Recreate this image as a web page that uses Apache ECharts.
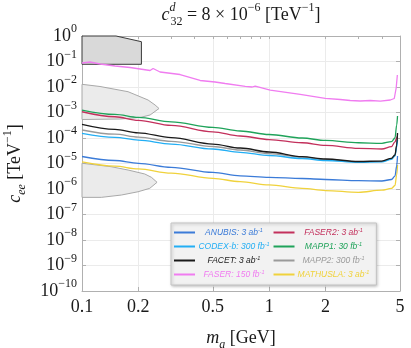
<!DOCTYPE html>
<html>
<head>
<meta charset="utf-8">
<script src="https://cdn.jsdelivr.net/npm/echarts@6/dist/echarts.min.js"></script>
<style>
  html, body { margin: 0; padding: 0; background: #fff; }
  #chart { width: 411px; height: 348px; }
</style>
</head>
<body>
<div id="chart"></div>
<script>
// 数据：质量网格 (GeV) 与各实验的 c_ee 灵敏度 (TeV^-1)
var massGrid = [0.1, 0.15, 0.2, 0.3, 0.5, 0.7, 1, 1.5, 2, 3, 4, 4.5, 4.7, 4.8, 4.85];
var anubis   = [1.88e-5, 1.31e-5, 1.02e-5, 7.1e-6, 4.5e-6, 3.3e-6, 2.88e-6, 2.58e-6, 2.36e-6, 2.12e-6, 2.06e-6, 2.36e-6, 3.2e-6, 8.0e-6, 1.97e-5];
var codexb   = [1.53e-4, 1.06e-4, 8.3e-5, 5.8e-5, 3.7e-5, 2.75e-5, 2.06e-5, 1.57e-5, 1.31e-5, 1.11e-5, 1.15e-5, 1.44e-5, 1.97e-5, 4.4e-5, 8.4e-5];
var facet    = [3.44e-4, 2.19e-4, 1.6e-4, 1.03e-4, 5.8e-5, 4.05e-5, 2.83e-5, 1.85e-5, 1.5e-5, 1.2e-5, 1.25e-5, 1.6e-5, 2.15e-5, 5.3e-5, 1.57e-4];
var faser2   = [1.07e-3, 6.8e-4, 4.9e-4, 3.1e-4, 1.75e-4, 1.2e-4, 8.7e-5, 6.5e-5, 5.1e-5, 3.9e-5, 3.7e-5, 4.6e-5, 7.0e-5, 1.0e-4, 1.2e-4];
var mapp1    = [1.25e-3, 8.4e-4, 6.4e-4, 4.3e-4, 2.6e-4, 1.88e-4, 1.37e-4, 1.0e-4, 8.0e-5, 6.5e-5, 6.2e-5, 7.2e-5, 1.0e-4, 3.2e-4, 7.3e-4];
var mapp2    = [2.06e-4, 1.41e-4, 1.08e-4, 7.4e-5, 4.65e-5, 3.38e-5, 2.46e-5, 1.77e-5, 1.44e-5, 1.15e-5, 1.2e-5, 1.53e-5, 2.06e-5, 4.85e-5, 1.44e-4];
var mathusla = [1.15e-5, 7.9e-6, 6.1e-6, 4.2e-6, 2.63e-6, 1.93e-6, 1.44e-6, 1.06e-6, 8.7e-7, 7.4e-7, 9.0e-7, 1.05e-6, 1.37e-6, 3.54e-6, 8.7e-6];
// FASER 曲线有锯齿，单独一组质量点
var faserMass = [0.1, 0.1104, 0.1248, 0.15, 0.1806, 0.2311, 0.2398, 0.2613, 0.3342, 0.4276, 0.514, 0.5817, 0.745, 0.811, 0.842, 1.013, 1.465, 1.993, 2.398, 2.71, 3.066, 3.468, 3.93, 4.438, 4.66, 4.77, 4.84];
var faserVals = [0.0873, 0.0955, 0.0798, 0.0667, 0.0582, 0.0444, 0.0531, 0.0388, 0.0309, 0.018, 0.0157, 0.0137, 0.0105, 0.0100, 0.0109, 0.0076, 0.0051, 0.0036, 0.00323, 0.00296, 0.00283, 0.00296, 0.00277, 0.00309, 0.00354, 0.00914, 0.0296];
// 已排除区域 (灰色多边形)
var regionDark   = [[0.1, 1], [0.152, 1], [0.2077, 0.598], [0.2077, 0.0777], [0.1, 0.0777]];
var regionUpper  = [[0.1, 0.01276], [0.1248, 0.01047], [0.1762, 0.00654], [0.2254, 0.00309], [0.2457, 0.00197], [0.258, 0.001435],
                    [0.2311, 0.000798], [0.2042, 0.000637], [0.1597, 0.000556], [0.1, 0.000531]];
var regionLower  = [[0.1, 1.02e-5], [0.1429, 7.5e-6], [0.1762, 5.56e-6], [0.2164, 3.88e-6], [0.2348, 2.88e-6], [0.2518, 1.83e-6],
                    [0.2301, 1.06e-6], [0.1993, 7.8e-7], [0.1623, 5.8e-7], [0.1268, 4.7e-7], [0.1, 4.7e-7]];
// 刻度
var xLabelVals = [0.1, 0.2, 0.5, 1, 2, 5];
var xMinorVals = [0.1, 0.2, 0.3, 0.4, 0.5, 0.6, 0.7, 0.8, 0.9, 1, 2, 3, 4, 5];
var yTickVals = [1e-10, 1e-9, 1e-8, 1e-7, 1e-6, 1e-5, 1e-4, 1e-3, 1e-2, 1e-1, 1];
// 图例文字
var lumi = {
    'ANUBIS': '3 ab', 'CODEX-b': '300 fb', 'FACET': '3 ab', 'FASER': '150 fb',
    'FASER2': '3 ab', 'MAPP1': '30 fb', 'MAPP2': '300 fb', 'MATHUSLA': '3 ab'
};
var colors = {
    'ANUBIS': '#3b7bd8', 'CODEX-b': '#22aef4', 'FACET': '#1a1a1a', 'FASER': '#f07cf0',
    'FASER2': '#c3305c', 'MAPP1': '#1fa35a', 'MAPP2': '#9a9a9a', 'MATHUSLA': '#f0d23c'
};
var legendOrder = ['ANUBIS', 'CODEX-b', 'FACET', 'FASER', 'FASER2', 'MAPP1', 'MAPP2', 'MATHUSLA'];

var SERIF = 'Liberation Serif';
var INK = '#1a1a1a';
var GRIDC = '#ebebeb';
var FRAME = '#b0b0b0';

var richMath = {
    n: {fontFamily: SERIF, fontSize: 18, fontWeight: 'normal', lineHeight: 26, color: INK, align: 'left'},
    i: {fontFamily: SERIF, fontSize: 18, fontWeight: 'normal', lineHeight: 26, fontStyle: 'italic', color: INK, align: 'left'},
    sup: {fontFamily: SERIF, fontSize: 12, fontWeight: 'normal', lineHeight: 12, verticalAlign: 'top', color: INK, align: 'left'},
    supi: {fontFamily: SERIF, fontSize: 12, fontWeight: 'normal', lineHeight: 12, fontStyle: 'italic', verticalAlign: 'top', color: INK, align: 'left', width: 1},
    sub: {fontFamily: SERIF, fontSize: 12, fontWeight: 'normal', lineHeight: 12, verticalAlign: 'bottom', color: INK, align: 'left'},
    subi: {fontFamily: SERIF, fontSize: 12, fontWeight: 'normal', lineHeight: 12, fontStyle: 'italic', verticalAlign: 'bottom', color: INK, align: 'left'}
};

function pairs(xs, ys) {
    return xs.map(function (x, i) { return [x, ys[i]]; });
}

function regionSeries(pts, fill, stroke) {
    return {
        type: 'custom',
        silent: true,
        renderItem: function (params, api) {
            if (params.dataIndex > 0) return;
            var poly = pts.map(function (p) { return api.coord(p); });
            return {
                type: 'polygon',
                shape: {points: poly},
                style: {fill: fill, stroke: stroke, lineWidth: 1}
            };
        },
        data: pts,
        z: 1
    };
}

function lineSeries(name, xs, ys, smooth) {
    return {
        name: name,
        type: 'line',
        data: pairs(xs, ys),
        showSymbol: false,
        smooth: smooth ? 0.35 : false,
        smoothMonotone: 'x',
        lineStyle: {width: 1.3, color: colors[name]},
        itemStyle: {color: colors[name]},
        z: 3
    };
}

var chart = echarts.init(document.getElementById('chart'), null, {renderer: 'canvas'});

var option = {
    animation: false,
    title: {
        text: '{i|c}{supi|d}{sub|32}{n| = 8 × 10}{sup|−6}{n| [TeV}{sup|−1}{n|]}',
        left: 241,
        top: 2,
        textAlign: 'center',
        padding: 0,
        textStyle: {fontWeight: 'normal', rich: richMath}
    },
    grid: {left: 82, right: 11, top: 36, bottom: 57, outerBoundsMode: 'none', containLabel: false},
    legend: {
        orient: 'vertical',
        left: 171,
        top: 223,
        height: 62,
        padding: [4, 7, 6, 3],
        itemGap: 4,
        itemWidth: 21,
        itemHeight: 2,
        icon: 'rect',
        selectedMode: false,
        backgroundColor: '#f2f2f2',
        borderColor: '#c4c4c4',
        borderWidth: 1,
        shadowBlur: 3,
        shadowColor: 'rgba(0,0,0,0.25)',
        shadowOffsetX: 1,
        shadowOffsetY: 1,
        data: legendOrder.map(function (n) {
            return {name: n, textStyle: {color: colors[n]}};
        }),
        formatter: function (name) {
            return '{t|' + name + ': ' + lumi[name] + '}{s|-1}';
        },
        textStyle: {
            width: 68,
            rich: {
                t: {fontFamily: 'Liberation Sans', fontStyle: 'italic', fontSize: 8.5, lineHeight: 11, align: 'center'},
                s: {fontFamily: 'Liberation Sans', fontStyle: 'italic', fontSize: 5.5, lineHeight: 8, verticalAlign: 'top', align: 'center'}
            }
        }
    },
    xAxis: [{
        type: 'log',
        min: 0.1,
        max: 5,
        position: 'bottom',
        axisLine: {show: true, lineStyle: {color: FRAME, width: 1}},
        axisTick: {show: true, inside: true, length: 4, customValues: xLabelVals, lineStyle: {color: FRAME}},
        axisLabel: {
            customValues: xLabelVals,
            formatter: function (v) { return String(parseFloat(Number(v).toPrecision(6))); },
            fontFamily: SERIF, fontSize: 18, color: INK, margin: 7
        },
        splitLine: {show: true, lineStyle: {color: GRIDC, width: 1}},
        name: '{i|m}{subi|a}{n| [GeV]}',
        nameLocation: 'middle',
        nameGap: 34,
        nameTextStyle: {rich: richMath}
    }, {
        type: 'log',
        min: 0.1,
        max: 5,
        position: 'top',
        axisLine: {show: true, lineStyle: {color: FRAME, width: 1}},
        axisTick: {show: true, inside: true, length: 3, customValues: xMinorVals, lineStyle: {color: FRAME}},
        axisLabel: {show: false},
        splitLine: {show: false}
    }],
    yAxis: [{
        type: 'log',
        min: 1e-10,
        max: 1,
        position: 'left',
        axisLine: {show: true, lineStyle: {color: FRAME, width: 1}},
        axisTick: {show: true, inside: true, length: 4, customValues: yTickVals, lineStyle: {color: FRAME}},
        axisLabel: {
            customValues: yTickVals,
            margin: 5,
            formatter: function (v) {
                var e = Math.round(Math.log10(v));
                return '{b|10}{s|' + (e < 0 ? '−' + (-e) : e) + '}';
            },
            rich: {
                b: {fontFamily: SERIF, fontSize: 18, lineHeight: 26, color: INK, align: 'left'},
                s: {fontFamily: SERIF, fontSize: 12, lineHeight: 12, verticalAlign: 'top', color: INK, align: 'left'}
            }
        },
        splitLine: {show: true, lineStyle: {color: GRIDC, width: 1}},
        name: '{i|c}{subi|ee}{n| [TeV}{sup|−1}{n|]}',
        nameLocation: 'middle',
        nameRotate: 90,
        nameGap: 54,
        nameTextStyle: {rich: richMath}
    }, {
        type: 'log',
        min: 1e-10,
        max: 1,
        position: 'right',
        axisLine: {show: true, lineStyle: {color: FRAME, width: 1}},
        axisTick: {show: true, inside: true, length: 4, customValues: yTickVals, lineStyle: {color: FRAME}},
        axisLabel: {show: false},
        splitLine: {show: false}
    }],
    series: [
        regionSeries(regionDark, '#d9d9d9', '#3a3a3a'),
        regionSeries(regionUpper, '#ebebeb', '#a8a8a8'),
        regionSeries(regionLower, '#ebebeb', '#a8a8a8'),
        lineSeries('MAPP2', massGrid, mapp2, true),
        lineSeries('CODEX-b', massGrid, codexb, true),
        lineSeries('MATHUSLA', massGrid, mathusla, true),
        lineSeries('ANUBIS', massGrid, anubis, true),
        lineSeries('FASER2', massGrid, faser2, true),
        lineSeries('MAPP1', massGrid, mapp1, true),
        lineSeries('FACET', massGrid, facet, true),
        lineSeries('FASER', faserMass, faserVals, false)
    ]
};

chart.setOption(option);
</script>
</body>
</html>
